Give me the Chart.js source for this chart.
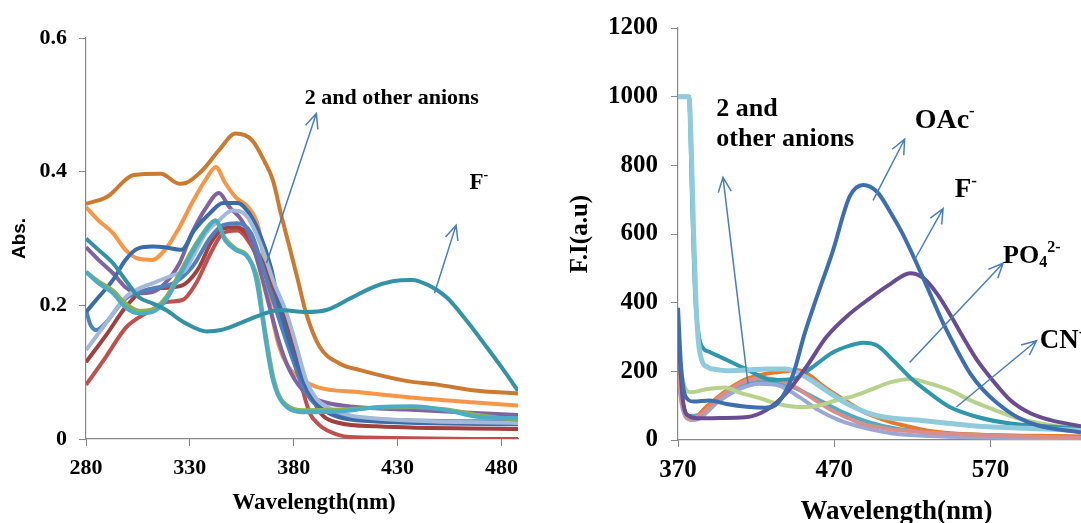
<!DOCTYPE html>
<html>
<head>
<meta charset="utf-8">
<script src="https://cdn.jsdelivr.net/npm/chart.js@4.4.0/dist/chart.umd.min.js"></script>
<style>
html, body { margin: 0; padding: 0; background: #fff; }
#wrap { position: relative; width: 1081px; height: 523px; overflow: hidden; }
#absBox { position: absolute; left: 0; top: 0; width: 540px; height: 523px; }
#fiBox { position: absolute; left: 560px; top: 0; width: 521px; height: 523px; }
</style>
</head>
<body>
<div id="wrap">
  <div id="absBox"><canvas id="absChart"></canvas></div>
  <div id="fiBox"><canvas id="fiChart"></canvas></div>
</div>
<script>
// ---- 吸收光谱 (left) ----
var absTicksX = [280, 330, 380, 430, 480];
var absTicksY = [0, 0.2, 0.4, 0.6];

var absBrownX = [280, 290, 303, 316, 325, 328, 336, 344, 352, 360, 366, 370, 374, 378, 382, 386, 392.5, 402, 412, 434, 450, 466, 488];
var absBrownY = [0.352, 0.362, 0.395, 0.397, 0.382, 0.383, 0.402, 0.432, 0.457, 0.447, 0.415, 0.387, 0.335, 0.287, 0.238, 0.188, 0.138, 0.113, 0.103, 0.087, 0.081, 0.073, 0.068];
var absOrangeX = [280, 286, 293, 299, 305, 312, 318, 325, 331, 338, 342.5, 347, 352, 358, 363, 366, 369.4, 373, 377, 381.4, 391, 412, 434, 466, 488];
var absOrangeY = [0.347, 0.327, 0.308, 0.283, 0.270, 0.268, 0.283, 0.317, 0.353, 0.390, 0.407, 0.383, 0.362, 0.347, 0.317, 0.260, 0.188, 0.138, 0.110, 0.095, 0.078, 0.070, 0.063, 0.055, 0.050];
var absPurpleX = [280, 286, 293, 299, 305, 312, 318, 325, 331, 338, 344, 349, 355, 359.5, 364, 369, 374, 379, 386, 395, 410, 434, 488];
var absPurpleY = [0.287, 0.268, 0.248, 0.227, 0.218, 0.220, 0.233, 0.263, 0.308, 0.347, 0.368, 0.347, 0.327, 0.297, 0.250, 0.190, 0.135, 0.097, 0.068, 0.055, 0.048, 0.044, 0.036];
var absNavyX = [280, 286, 293, 299, 305, 312, 318, 326, 332, 340, 346, 353, 358, 363, 369, 373, 378, 383, 388, 395, 410, 488];
var absNavyY = [0.190, 0.212, 0.238, 0.268, 0.285, 0.288, 0.287, 0.283, 0.312, 0.339, 0.353, 0.353, 0.340, 0.312, 0.257, 0.200, 0.145, 0.100, 0.065, 0.042, 0.028, 0.022];
var absBlueX = [280, 282, 285, 289, 299, 312, 322, 331, 340, 346, 353, 359.5, 364, 369, 375, 380, 385, 391, 400, 415, 488];
var absBlueY = [0.193, 0.172, 0.163, 0.172, 0.210, 0.225, 0.233, 0.257, 0.302, 0.320, 0.323, 0.308, 0.268, 0.218, 0.160, 0.115, 0.075, 0.050, 0.036, 0.030, 0.026];
var absRedX = [280, 289.6, 299, 305.5, 312, 318.5, 326.5, 333, 340, 346, 353, 359.5, 363, 367.5, 373, 378, 383, 387.7, 392, 396, 407, 488];
var absRedY = [0.081, 0.123, 0.166, 0.182, 0.193, 0.205, 0.208, 0.233, 0.278, 0.308, 0.312, 0.290, 0.268, 0.238, 0.188, 0.138, 0.088, 0.039, 0.022, 0.013, 0.003, 0.0];
var absDarkRedX = [280, 289.6, 299, 305.5, 312, 321.7, 328, 334.5, 340, 346, 353, 359.5, 366, 369, 375, 380.5, 385.6, 390, 394, 402, 420, 488];
var absDarkRedY = [0.115, 0.155, 0.197, 0.218, 0.225, 0.227, 0.233, 0.257, 0.293, 0.315, 0.317, 0.297, 0.258, 0.238, 0.188, 0.138, 0.088, 0.055, 0.035, 0.024, 0.019, 0.015];
var absSkyX = [280, 289.6, 299, 305.5, 312, 321.7, 328, 331, 337.7, 344, 350.5, 357, 361.6, 366, 370, 376.6, 381.4, 386, 391, 396, 412, 488];
var absSkyY = [0.133, 0.173, 0.212, 0.225, 0.233, 0.245, 0.253, 0.270, 0.308, 0.327, 0.342, 0.335, 0.310, 0.275, 0.238, 0.188, 0.138, 0.088, 0.060, 0.048, 0.033, 0.024];
var absGreenX = [280, 286, 293, 299, 305.5, 312, 318.5, 324.7, 331, 338, 342, 347, 352, 357, 360, 363, 365, 367.5, 370.5, 375, 386, 402, 421, 437, 453.6, 469, 488];
var absGreenY = [0.250, 0.236, 0.222, 0.203, 0.192, 0.194, 0.212, 0.246, 0.282, 0.315, 0.327, 0.300, 0.285, 0.277, 0.262, 0.235, 0.188, 0.138, 0.088, 0.055, 0.043, 0.044, 0.047, 0.048, 0.044, 0.036, 0.028];
var absAquaX = [280, 286, 293, 299, 305.5, 312, 318.5, 324.7, 331, 337.7, 342.5, 347, 352, 357, 360, 362, 364.6, 367, 370, 374.7, 386, 402, 421, 437, 453.6, 469, 488];
var absAquaY = [0.250, 0.233, 0.218, 0.197, 0.188, 0.190, 0.208, 0.242, 0.278, 0.312, 0.327, 0.297, 0.283, 0.275, 0.260, 0.238, 0.188, 0.138, 0.088, 0.054, 0.040, 0.041, 0.048, 0.049, 0.043, 0.033, 0.031];
var absTealX = [280, 286, 293, 299, 305.5, 312, 318.5, 328, 338, 345, 354, 363.6, 373, 386, 395.7, 407, 418, 427.6, 437, 445, 453.6, 463, 472.8, 482, 488];
var absTealY = [0.300, 0.283, 0.263, 0.238, 0.212, 0.203, 0.193, 0.173, 0.161, 0.163, 0.173, 0.185, 0.193, 0.190, 0.193, 0.210, 0.227, 0.236, 0.238, 0.230, 0.212, 0.178, 0.138, 0.099, 0.072];

// ---- 荧光光谱 (right) ----
var fiTicksX = [370, 470, 570];
var fiTicksY = [0, 200, 400, 600, 800, 1000, 1200];

var fiOAcX = [370, 372, 375, 380, 390, 401, 414, 426, 434, 443.6, 451, 458, 469, 480, 488.6, 497.4, 505.8, 514, 523, 531.5, 540, 548.8, 557, 565.5, 574.5, 587, 600, 628];
var fiOAcY = [385, 212, 125, 112, 115, 105, 97, 94, 108, 190, 309, 405, 549, 710, 743, 723, 665, 599, 512, 425, 338, 260, 194, 145, 107, 67, 43, 22];
var fiFX = [370, 373, 377, 384, 397, 413, 426.5, 439, 452, 465, 478, 492.6, 505.8, 518.6, 527, 536, 544, 552.7, 561.7, 570, 582.8, 595.6, 608.5, 628];
var fiFY = [330, 120, 70, 63, 64, 66, 87, 135, 212, 300, 360, 412, 454, 486, 472, 425, 367, 298, 231, 182, 116, 78, 58, 40];
var fiPO4X = [370, 377, 379, 381, 383.5, 386, 390, 398, 412, 430.8, 443.6, 456, 469, 480, 488.6, 497.4, 508, 518.6, 531.5, 544, 561.7, 582.8, 608.5, 628];
var fiPO4Y = [1000, 1000, 700, 420, 300, 268, 257, 240, 210, 175, 178, 212, 255, 275, 283, 275, 231, 182, 135, 96, 67, 48, 39, 32];
var fiHostX = [370, 377, 378.5, 380, 381.5, 383, 385, 389, 395, 401, 414, 427, 439, 452, 465, 478, 491, 501.6, 523, 544, 565.5, 587, 628];
var fiHostY = [1000, 1000, 850, 600, 400, 290, 235, 212, 205, 202, 204, 207, 207, 183, 144, 106, 80, 67, 58, 48, 39, 35, 28];
var fiCNX = [370, 373, 376, 378.5, 388, 400, 409.5, 423, 435, 447.7, 460, 473, 480, 492.6, 505.8, 518.6, 531.5, 544, 557, 570, 587, 608.5, 628];
var fiCNY = [270, 175, 142, 139, 148, 153, 138, 121, 104, 96, 100, 118, 125, 145, 168, 178, 164, 145, 116, 92, 64, 43, 33];
var fiOrangeX = [370, 373, 376, 380, 388, 401, 414, 426.5, 439, 446, 452, 465, 478, 490.6, 497, 507.7, 514, 529, 544, 628];
var fiOrangeY = [200, 110, 65, 63, 96, 144, 178, 193, 200, 204, 195, 150, 112, 78, 67, 50, 43, 28, 20, 10];
var fiPinkX = [370, 373, 377, 384, 396.7, 409.5, 422, 430.8, 443.6, 456, 469, 480, 486, 501, 507.7, 523, 529, 628];
var fiPinkY = [190, 100, 62, 72, 125, 164, 180, 178, 158, 122, 85, 62, 50, 35, 30, 25, 22, 6];
var fiLavX = [370, 373, 377, 380, 396.7, 409.5, 422, 435, 447.7, 460, 473, 490.6, 507.7, 530, 628];
var fiLavY = [180, 90, 60, 58, 115, 149, 164, 158, 125, 87, 58, 34, 19, 12, 4];
var fiAquaX = [370, 373, 377, 384, 397, 410, 424, 436, 448, 462, 476, 492, 510, 540, 628];
var fiAquaY = [230, 110, 70, 75, 125, 158, 170, 165, 145, 112, 80, 52, 33, 20, 8];

// 把两个数组拼成 {x,y}
function pts(xs, ys) {
    var ret = [];
    for (var i = 0; i < xs.length; i++) {
        ret.push({x: xs[i], y: ys[i]});
    }
    return ret;
}
function line(xs, ys, color, width) {
    return {
        data: pts(xs, ys),
        borderColor: color,
        borderWidth: width || 4,
        pointRadius: 0,
        fill: false,
        cubicInterpolationMode: 'monotone'
    };
}

var SERIF = '"Liberation Serif", "Times New Roman", serif';

// 上下标文字 parts: [[text, 0 普通 / 1 上标 / -1 下标], ...]
function drawParts(ctx, parts, x, y, size) {
    var cx = x;
    for (var i = 0; i < parts.length; i++) {
        var p = parts[i];
        var s = p[1] === 0 ? size : Math.round(size * 0.62);
        var dy = p[1] > 0 ? -size * 0.32 : (p[1] < 0 ? size * 0.24 : 0);
        ctx.font = 'bold ' + s + 'px ' + SERIF;
        ctx.fillText(p[0], cx, y + dy);
        cx += ctx.measureText(p[0]).width;
    }
}
function drawArrow(ctx, x1, y1, x2, y2) {
    var a = Math.atan2(y2 - y1, x2 - x1), h = 16, w = 0.42;
    ctx.beginPath();
    ctx.moveTo(x1, y1);
    ctx.lineTo(x2, y2);
    ctx.moveTo(x2 - h * Math.cos(a - w), y2 - h * Math.sin(a - w));
    ctx.lineTo(x2, y2);
    ctx.lineTo(x2 - h * Math.cos(a + w), y2 - h * Math.sin(a + w));
    ctx.stroke();
}

// 注释插件：箭头和文字都用数据坐标
function notesPlugin(arrows, labels, xTitle) {
    return {
        id: 'notes',
        afterDraw: function(chart) {
            var ctx = chart.ctx, sx = chart.scales.x, sy = chart.scales.y, area = chart.chartArea;
            ctx.save();
            ctx.strokeStyle = '#4A7EBB';
            ctx.lineWidth = 1.5;
            arrows.forEach(function(a) {
                drawArrow(ctx, sx.getPixelForValue(a[0]), sy.getPixelForValue(a[1]),
                    sx.getPixelForValue(a[2]), sy.getPixelForValue(a[3]));
            });
            ctx.fillStyle = '#000';
            ctx.textAlign = 'left';
            ctx.textBaseline = 'middle';
            labels.forEach(function(l) {
                drawParts(ctx, l.parts, sx.getPixelForValue(l.x), sy.getPixelForValue(l.y), l.size);
            });
            ctx.textAlign = 'center';
            ctx.font = 'bold ' + xTitle.size + 'px ' + SERIF;
            ctx.fillText(xTitle.text, (area.left + area.right) / 2 + xTitle.dx, area.bottom + xTitle.dy);
            ctx.restore();
        }
    };
}

function axes(o) {
    var tickFont = {family: SERIF, weight: 'bold', size: o.tickSize};
    var plain = function(v) { return String(v); }; // 不要千分位
    return {
        x: {
            type: 'linear', min: o.xMin, max: o.xMax,
            afterBuildTicks: function(s) { s.ticks = o.ticksX.map(function(v) { return {value: v}; }); },
            afterFit: function(s) { s.height = o.xHeight; },
            ticks: {font: tickFont, color: '#000', padding: o.xPad, maxRotation: 0, autoSkip: false, callback: plain},
            grid: {drawOnChartArea: false, color: '#888', tickLength: 7},
            border: {color: '#888', width: 1.2}
        },
        y: {
            type: 'linear', min: o.yMin, max: o.yMax,
            afterBuildTicks: function(s) { s.ticks = o.ticksY.map(function(v) { return {value: v}; }); },
            afterFit: function(s) { s.width = o.yWidth; },
            ticks: {font: tickFont, color: '#000', padding: o.yPad, callback: plain},
            grid: {drawOnChartArea: false, color: '#888', tickLength: 7},
            border: {color: '#888', width: 1.2},
            title: {display: true, text: o.yTitle, color: '#000', font: o.yTitleFont, padding: {top: o.yTitlePad, bottom: 0}}
        }
    };
}

new Chart(document.getElementById('absChart'), {
    type: 'line',
    data: {
        datasets: [
            line(absTealX, absTealY, '#3492A7'),
            line(absAquaX, absAquaY, '#4BACC6'),
            line(absGreenX, absGreenY, '#8FB04E'),
            line(absSkyX, absSkyY, '#A3B9DB'),
            line(absNavyX, absNavyY, '#3B6CA6'),
            line(absBlueX, absBlueY, '#4F81BD'),
            line(absPurpleX, absPurpleY, '#8064A2'),
            line(absDarkRedX, absDarkRedY, '#A3403D'),
            line(absRedX, absRedY, '#C0504D'),
            line(absOrangeX, absOrangeY, '#F79646'),
            line(absBrownX, absBrownY, '#CC7A32')
        ]
    },
    options: {
        animation: false, responsive: true, maintainAspectRatio: false,
        layout: {padding: {top: 38, right: 22, left: 0, bottom: 0}},
        plugins: {legend: {display: false}, tooltip: {enabled: false}},
        scales: axes({
            xMin: 280, xMax: 488, yMin: 0, yMax: 0.6, ticksX: absTicksX, ticksY: absTicksY,
            tickSize: 22, xHeight: 84, yWidth: 86, xPad: 9, yPad: 12,
            yTitle: 'Abs.', yTitleFont: {family: '"Liberation Sans", Arial, sans-serif', weight: 'bold', size: 19}, yTitlePad: 8
        })
    },
    plugins: [notesPlugin(
        [[366.9, 0.263, 390.9, 0.487], [447.8, 0.218, 458.2, 0.320]],
        [
            {parts: [['2 and other anions', 0]], x: 385.3, y: 0.51, size: 22},
            {parts: [['F', 0], ['-', 1]], x: 464.6, y: 0.383, size: 23}
        ],
        {text: 'Wavelength(nm)', size: 23, dx: 12, dy: 64}
    )]
});

new Chart(document.getElementById('fiChart'), {
    type: 'line',
    data: {
        datasets: [
            line(fiOAcX, fiOAcY, '#3D6FAF'),
            line(fiFX, fiFY, '#6A4C93'),
            line(fiHostX, fiHostY, '#8FCBDC', 5),
            line(fiPO4X, fiPO4Y, '#2F97AB'),
            line(fiCNX, fiCNY, '#B7D28B'),
            line(fiPinkX, fiPinkY, '#D88E8A'),
            line(fiOrangeX, fiOrangeY, '#E67A2B'),
            line(fiLavX, fiLavY, '#9AA8D8'),
            line(fiAquaX, fiAquaY, '#4BACC6')
        ]
    },
    options: {
        animation: false, responsive: true, maintainAspectRatio: false,
        layout: {padding: {top: 25, right: 0, left: 0, bottom: 0}},
        plugins: {legend: {display: false}, tooltip: {enabled: false}},
        scales: axes({
            xMin: 370, xMax: 628, yMin: 0, yMax: 1200, ticksX: fiTicksX, ticksY: fiTicksY,
            tickSize: 25, xHeight: 83, yWidth: 118, xPad: 9, yPad: 13,
            yTitle: 'F.I(a.u)', yTitleFont: {family: SERIF, weight: 'bold', size: 25}, yTitlePad: 6
        })
    },
    plugins: [notesPlugin(
        [[414.8, 164, 398.8, 765], [494.9, 698, 515.1, 876], [521.5, 525, 539.7, 674],
         [518.3, 226, 578.1, 515], [548.2, 96, 599.5, 289]],
        [
            {parts: [['2 and', 0]], x: 394.5, y: 963, size: 26},
            {parts: [['other anions', 0]], x: 394.5, y: 876, size: 26},
            {parts: [['OAc', 0], ['-', 1]], x: 521.5, y: 929, size: 28},
            {parts: [['F', 0], ['-', 1]], x: 547.2, y: 727, size: 27},
            {parts: [['PO', 0], ['4', -1], ['2-', 1]], x: 578.1, y: 534, size: 26},
            {parts: [['CN', 0], ['-', 1]], x: 601.6, y: 289, size: 27}
        ],
        {text: 'Wavelength(nm)', size: 27, dx: 17, dy: 72}
    )]
});
</script>
</body>
</html>
